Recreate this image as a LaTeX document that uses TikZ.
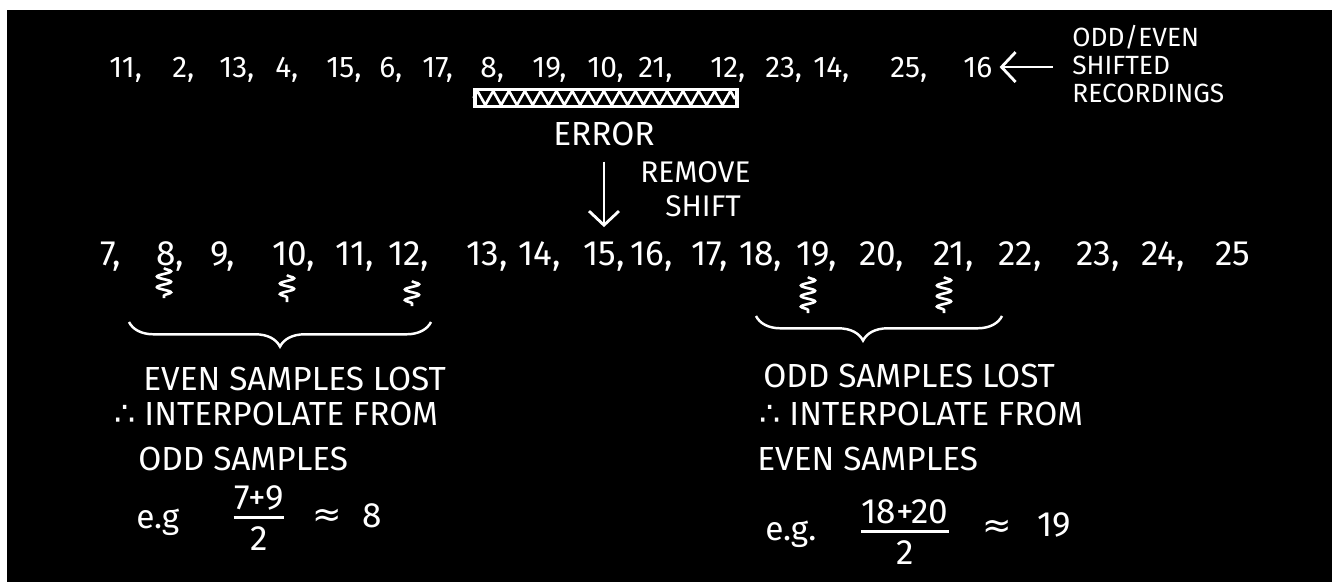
\documentclass[tikz,border=0pt]{standalone}
\usepackage{fontspec}
\setmainfont{Fira Sans}
\newfontfamily\symfont{DejaVu Sans}
\usetikzlibrary{arrows.meta,positioning,decorations.pathmorphing,decorations.pathreplacing}

\begin{document}
\begin{tikzpicture}[x=0.02cm, y=-0.02cm,
    num/.style={text=white, font=\fontsize{17}{20}\selectfont, anchor=base west, inner sep=0pt},
    bignum/.style={text=white, font=\fontsize{20}{24}\selectfont, anchor=base west, inner sep=0pt},
    note/.style={text=white, font=\fontsize{19}{22}\selectfont, anchor=base west, inner sep=0pt},
    fr/.style={text=white, font=\fontsize{20}{22}\selectfont, inner sep=0pt},
    arr/.style={-{Straight Barb[length=8pt,width=17pt,line width=1.6pt]}, white, line width=1.6pt},
    squig/.style={white, line width=1.5pt, decorate, decoration={snake, amplitude=4pt, segment length=6pt}},
    brc/.style={white, line width=1.4pt, decorate, decoration={brace, amplitude=14pt, mirror}},
    errbar/.style={draw=white, line width=1.8pt, minimum width=5.24cm, minimum height=0.34cm, inner sep=0pt},
    zz/.style={white, line width=1.5pt, decorate, decoration={zigzag, amplitude=4pt, segment length=9pt}},
    fbar/.style={white, line width=1.6pt}
]
    % board
    \fill[white] (0,0) rectangle (1332,582);
    \fill[black] (7,10) rectangle (1332,582);
    \useasboundingbox (0,0) rectangle (1332,582);

    % shifted recording
    \foreach \v/\x [count=\i] in {11/109, 2/172, 13/219, 4/275, 15/326, 6/379, 17/422, 8/480,
        19/532, 10/587, 21/638, 12/710, 23/765, 14/813, 25/890}
        \node[num] (t\i) at (\x,77) {\v,};
    \node[num] (t16) at (963,77) {16};
    \node[num, font=\fontsize{15}{16}\selectfont, anchor=north west, align=left] (rec) at (1072,25)
        {ODD/EVEN\\SHIFTED\\RECORDINGS};
    \draw[arr, shorten <=11pt, shorten >=4pt] (t16.east -| rec.west) -- (t16.east);

    % error burst
    \node[errbar] (bar) at (606,98) {};
    \draw[zz] (bar.west) -- (bar.east);
    \node[note] (err) at (553,145) {ERROR};
    \node[note, font=\fontsize{17}{20}\selectfont] (rm) at (640,182) {REMOVE};
    \node[note, font=\fontsize{17}{20}\selectfont] (sh) at (665,216) {SHIFT};

    % de-shifted samples
    \foreach \v/\x in {7/100, 8/156, 9/210, 10/272, 11/335, 12/388, 13/466, 14/518, 15/583,
        16/630, 17/691, 18/739, 19/796, 20/859, 21/933, 22/998, 23/1076, 24/1141}
        \node[bignum] (b\v) at (\x,265) {\v,};
    \node[bignum] (b25) at (1215,265) {25};
    \draw[arr, shorten <=9pt, shorten >=8pt] (err.south) -- (err.south |- b15.north);

    % lost samples
    \draw[squig] (164,268) -- (164,298);
    \draw[squig] (287,275) -- (287,302);
    \draw[squig] (412,281) -- (412,306);
    \draw[squig] (808,277) -- (808,313);
    \draw[squig] (944,277) -- (944,313);
    \draw[brc, decoration={aspect=0.5}] (129,322) -- (431,322);
    \draw[brc, decoration={aspect=0.435}] (756,316) -- (1002,316);

    % left note
    \node[note] (l1) at (143,390) {EVEN SAMPLES LOST};
    \node[note] (l2) at (114,425) {{\symfont ∴} INTERPOLATE FROM};
    \node[note] (l3) at (138,470) {ODD SAMPLES};
    \node[note] (l4) at (136,528) {e.g};
    \node[fr] (n1) at (259,498) {7+9};
    \node[fr, below=9pt of n1] (d1) {2};
    \draw[fbar] ([yshift=-4pt]n1.south west) -- ([yshift=-4pt]n1.south east);
    \node[fr, font=\symfont\fontsize{20}{22}\selectfont] (ap1) at (327,518) {≈};
    \node[fr] (r1) at (372,516) {8};

    % right note
    \node[note] (r1a) at (763,387) {ODD SAMPLES LOST};
    \node[note] (r2) at (759,425) {{\symfont ∴} INTERPOLATE FROM};
    \node[note] (r3) at (757,470) {EVEN SAMPLES};
    \node[note] (r4) at (765,540) {e.g.};
    \node[fr] (n2) at (905,512) {18+20};
    \node[fr, below=9pt of n2] (d2) {2};
    \draw[fbar] ([yshift=-4pt]n2.south west) -- ([yshift=-4pt]n2.south east);
    \node[fr, font=\symfont\fontsize{20}{22}\selectfont] (ap2) at (997,529) {≈};
    \node[fr] (r5) at (1054,525) {19};
\end{tikzpicture}
\end{document}
